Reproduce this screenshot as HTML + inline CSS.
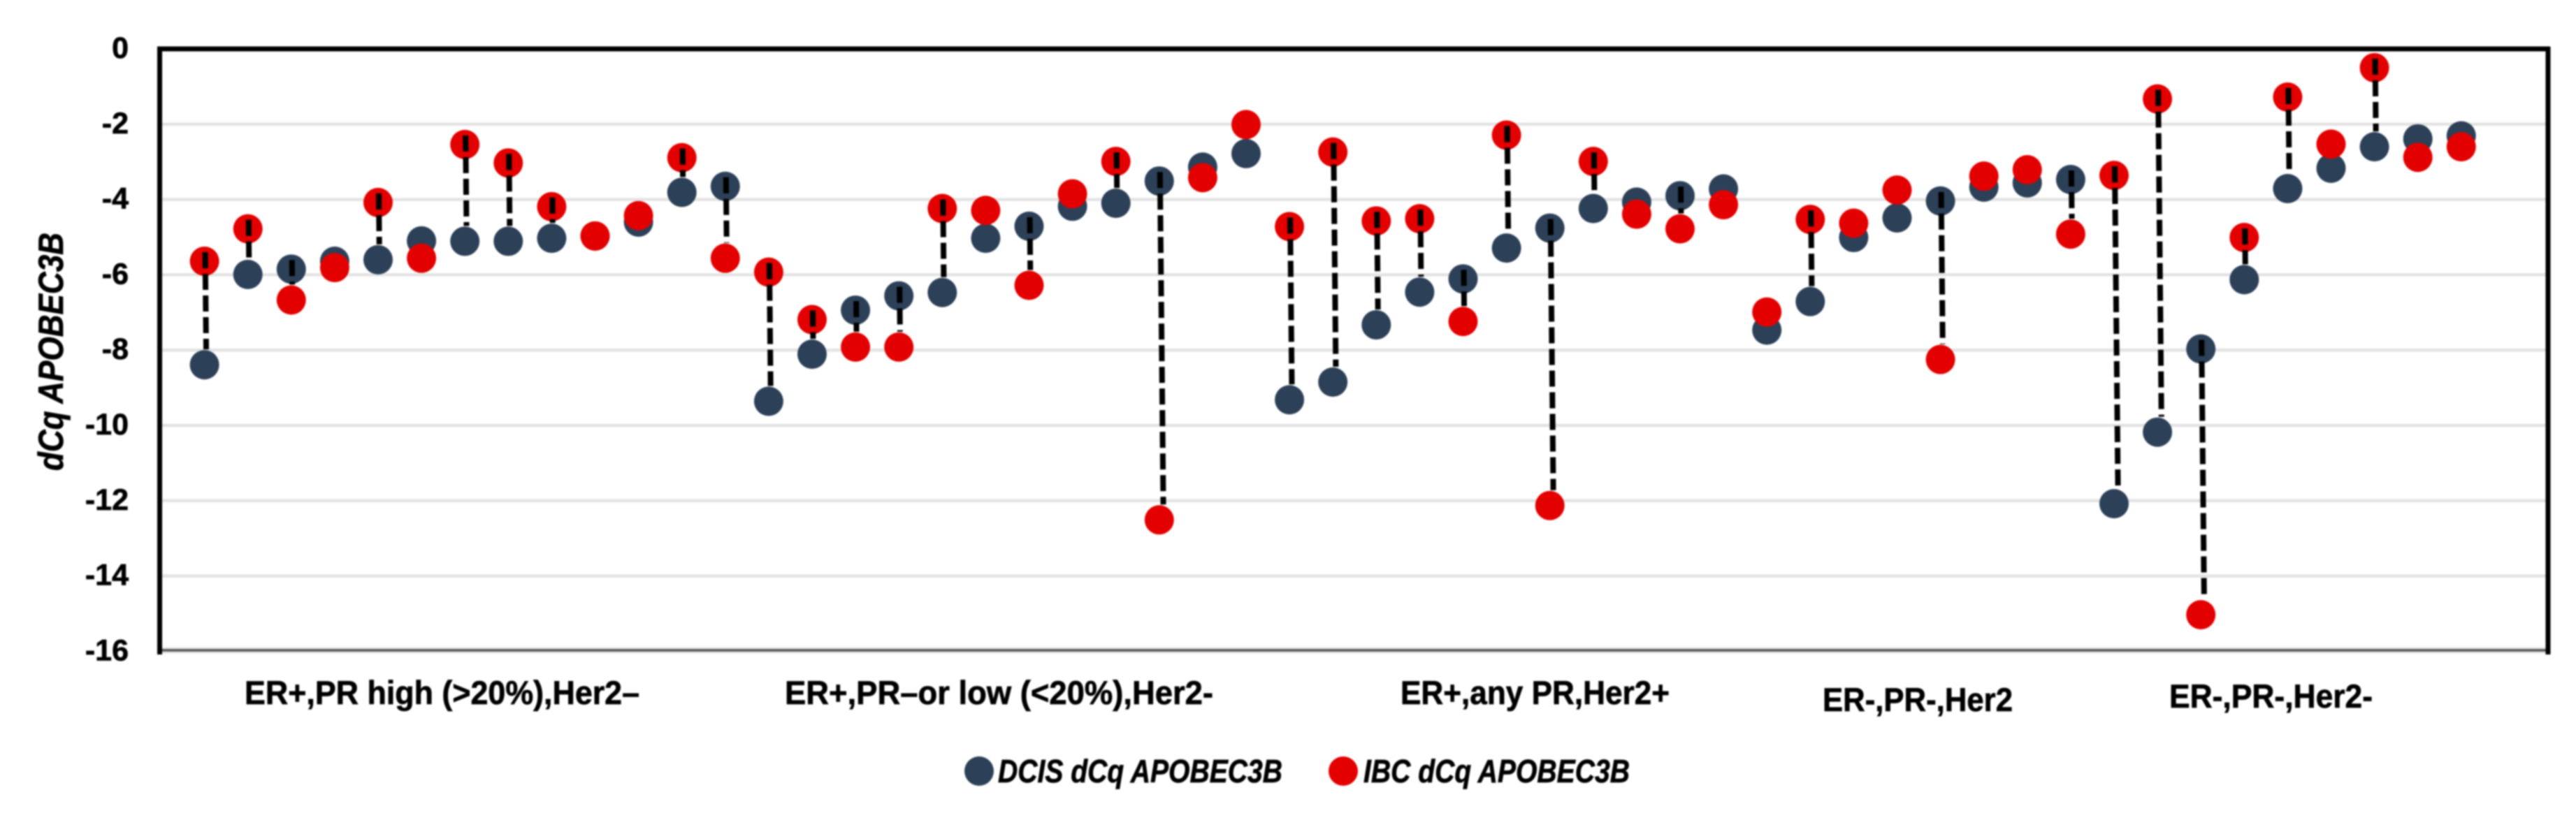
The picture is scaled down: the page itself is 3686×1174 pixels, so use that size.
<!DOCTYPE html>
<html lang="en">
<head>
<meta charset="utf-8">
<title>dCq APOBEC3B in DCIS and IBC</title>
<style>
html,body{margin:0;padding:0;background:#fff;width:3686px;height:1174px;overflow:hidden}
svg{display:block;filter:blur(1px)}
text{font-family:"Liberation Sans",sans-serif;font-weight:700;fill:#000;stroke:#000;stroke-width:0.7px}
</style>
</head>
<body>
<svg id="chart" xmlns="http://www.w3.org/2000/svg" width="3686" height="1174" viewBox="0 0 3686 1174">
  <rect x="0" y="0" width="3686" height="1174" fill="#ffffff"/>
  <g id="grid"></g>
  <g id="frame">
    <line x1="228" y1="931" x2="3646" y2="931" stroke="#e4e4e4" stroke-width="9"/>
    <line x1="228" y1="931" x2="3646" y2="931" stroke="#555555" stroke-width="3.5"/>
    <line x1="225" y1="70" x2="3649" y2="70" stroke="#000000" stroke-width="7"/>
    <line x1="228.5" y1="67" x2="228.5" y2="937" stroke="#000000" stroke-width="7"/>
    <line x1="3646" y1="67" x2="3646" y2="937" stroke="#000000" stroke-width="7"/>
  </g>
  <g id="yticks"></g>
  <text transform="translate(90,674) rotate(-90)" font-size="50" font-style="italic" textLength="341" lengthAdjust="spacingAndGlyphs">dCq APOBEC3B</text>
  <g id="dcis"></g>
  <g id="ibc"></g>
  <g id="connectors"></g>
  <g>
    <text x="350" y="1008" font-size="47" textLength="565" lengthAdjust="spacingAndGlyphs">ER+,PR high (&gt;20%),Her2–</text>
    <text x="1123" y="1008" font-size="47" textLength="613" lengthAdjust="spacingAndGlyphs">ER+,PR–or low (&lt;20%),Her2-</text>
    <text x="2004" y="1008" font-size="47" textLength="385" lengthAdjust="spacingAndGlyphs">ER+,any PR,Her2+</text>
    <text x="2608" y="1018" font-size="47" textLength="272" lengthAdjust="spacingAndGlyphs">ER-,PR-,Her2</text>
    <text x="3104" y="1013" font-size="47" textLength="291" lengthAdjust="spacingAndGlyphs">ER-,PR-,Her2-</text>
  </g>
  <g>
    <g>
      <circle cx="1401" cy="1104" r="21" fill="#2c4058"/>
      <text x="1428" y="1120" font-size="46" font-style="italic" textLength="407" lengthAdjust="spacingAndGlyphs">DCIS dCq APOBEC3B</text>
    </g>
    <g>
      <circle cx="1922" cy="1104" r="21" fill="#e30000"/>
      <text x="1951" y="1120" font-size="46" font-style="italic" textLength="381" lengthAdjust="spacingAndGlyphs">IBC dCq APOBEC3B</text>
    </g>
  </g>
</svg>
<script>
const tickValues = [0, -2, -4, -6, -8, -10, -12, -14, -16];
const tickLabels = ["0", "-2", "-4", "-6", "-8", "-10", "-12", "-14", "-16"];
const dcisValues = [-8.39, -5.99, -5.85, -5.64, -5.60, -5.10, -5.11, -5.11, -5.03, -4.97, -4.60, -3.81, -3.65, -9.36, -8.11, -6.94, -6.56, -6.47, -5.03, -4.71, -4.18, -4.10, -3.51, -3.14, -2.78, -9.32, -8.85, -7.33, -6.46, -6.11, -5.29, -4.76, -4.24, -4.07, -3.90, -3.72, -7.47, -6.71, -5.01, -4.49, -4.04, -3.67, -3.56, -3.47, -12.08, -10.18, -7.97, -6.13, -3.71, -3.17, -2.60, -2.39, -2.31];
const ibcValues = [-5.64, -4.78, -6.67, -5.81, -4.08, -5.56, -2.54, -3.03, -4.19, -4.97, -4.43, -2.89, -5.56, -5.93, -7.19, -7.92, -7.92, -4.24, -4.29, -6.28, -3.85, -2.99, -12.51, -3.42, -2.01, -4.72, -2.74, -4.57, -4.51, -7.24, -2.29, -12.13, -2.99, -4.39, -4.78, -4.14, -6.99, -4.53, -4.63, -3.75, -8.25, -3.38, -3.21, -4.92, -3.36, -1.33, -15.03, -5.01, -1.28, -2.53, -0.50, -2.88, -2.60];
const connectedSamples = [1, 2, 3, 5, 7, 8, 9, 12, 13, 14, 15, 16, 17, 18, 20, 22, 23, 26, 27, 28, 29, 30, 31, 32, 33, 35, 38, 41, 44, 45, 46, 47, 48, 49, 51];

const SVG_NS = "http://www.w3.org/2000/svg";
function xScale(i) { return 292.6 + 62.1 * i; }
function yScale(v) { return 70 - 53.9 * v; }
function make(tag, attrs) {
  const el = document.createElementNS(SVG_NS, tag);
  for (const k in attrs) el.setAttribute(k, attrs[k]);
  return el;
}

const gridGroup = document.getElementById("grid");
const tickGroup = document.getElementById("yticks");
tickValues.forEach(function (v, i) {
  if (v !== 0 && v !== -16) {
    const gl = make("line", { x1: 232, x2: 3643, y1: yScale(v), y2: yScale(v), stroke: "#e3e3e3", "stroke-width": 4.5 });
    
    
    gridGroup.appendChild(gl);
  }
  const t = make("text", { x: 184, y: yScale(v) + 13, "text-anchor": "end", "font-size": 43 });
  
  
  t.textContent = tickLabels[i];
  tickGroup.appendChild(t);
});

const dcisGroup = document.getElementById("dcis");
dcisValues.forEach(function (v, i) {
  const c = make("circle", { cx: xScale(i), cy: yScale(v), r: 21, fill: "#2c4058" });
  
  
  dcisGroup.appendChild(c);
});

const ibcGroup = document.getElementById("ibc");
ibcValues.forEach(function (v, i) {
  const c = make("circle", { cx: xScale(i), cy: yScale(v), r: 21, fill: "#e30000" });
  
  
  ibcGroup.appendChild(c);
});

const connectorGroup = document.getElementById("connectors");
connectedSamples.forEach(function (n) {
  const i = n - 1;
  const top = Math.min(yScale(dcisValues[i]), yScale(ibcValues[i])) - 13;
  const bottom = Math.max(yScale(dcisValues[i]), yScale(ibcValues[i])) - 22;
  const x = xScale(i) + 1;
  const l = make("line", {
    x1: x, y1: top,
    x2: x + (bottom - top) * 0.01, y2: bottom,
    stroke: "#000000", "stroke-width": 8, "stroke-dasharray": "23 8"
  });
  
  
  connectorGroup.appendChild(l);
});
</script>
</body>
</html>
